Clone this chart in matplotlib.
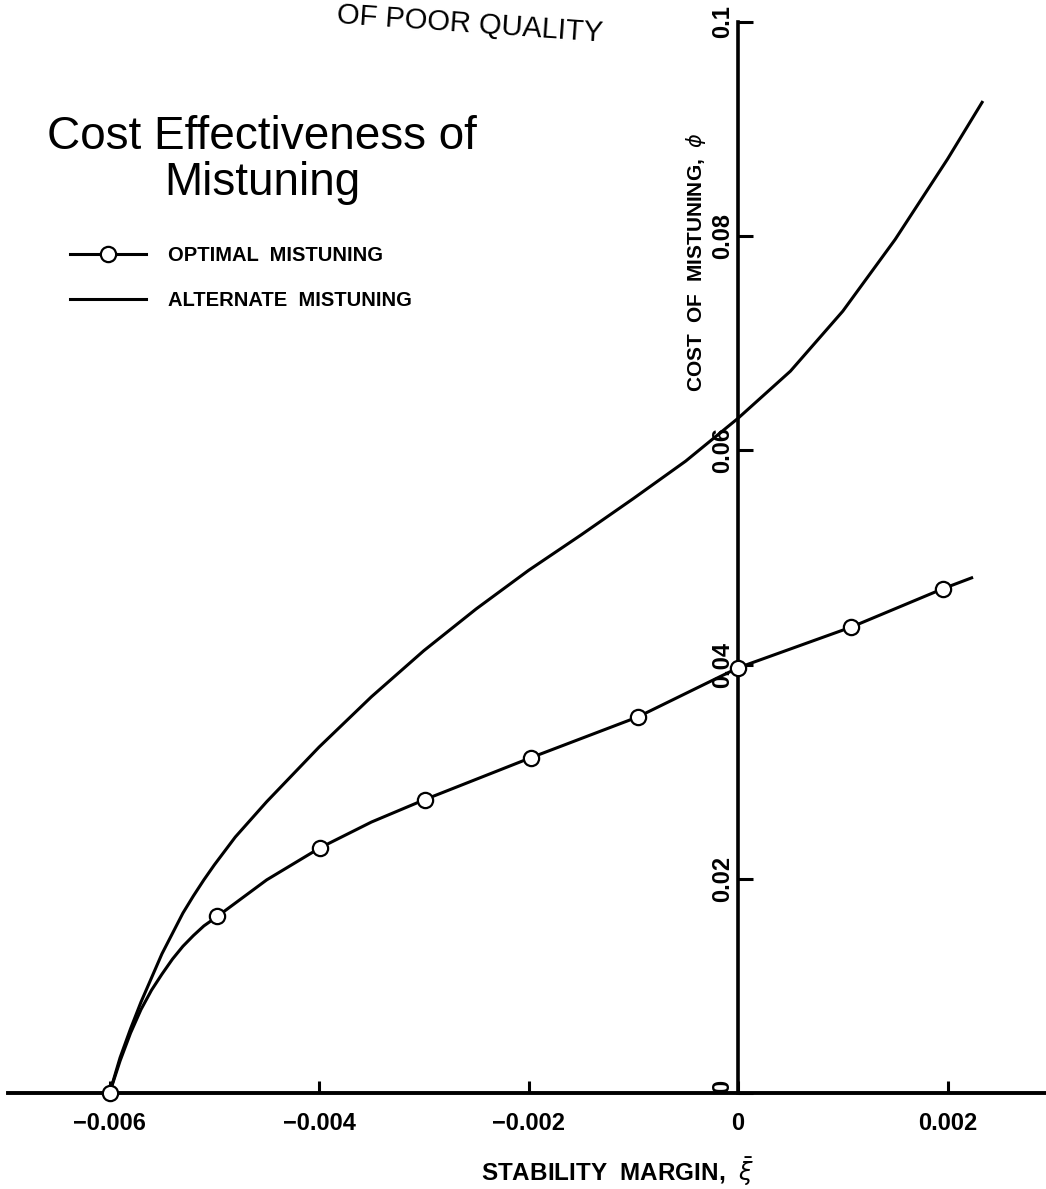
import numpy as np
import matplotlib
matplotlib.use('Agg')
import matplotlib.pyplot as plt

# stability margin (x) / cost of mistuning (y)
opt_x = [-0.0060, -0.00497, -0.00399, -0.00299, -0.00198, -0.00096, 0.0, 0.00108, 0.00196]
opt_y = [0.0, 0.0165, 0.0229, 0.0274, 0.0313, 0.0351, 0.0397, 0.0435, 0.0471]

# traced line for optimal mistuning (curved near the start, tail past last marker)
opt_line_x = [-0.0060, -0.0059, -0.0058, -0.0057, -0.0056, -0.0055, -0.0054,
              -0.0053, -0.0052, -0.0051, -0.00497, -0.0045, -0.00399, -0.0035,
              -0.00299, -0.00198, -0.00096, 0.0, 0.00108, 0.00196, 0.00223]
opt_line_y = [0.0, 0.0030, 0.0056, 0.0078, 0.0096, 0.0111, 0.0125,
              0.0137, 0.0147, 0.0156, 0.0165, 0.0199, 0.0229, 0.0253,
              0.0274, 0.0313, 0.0351, 0.0397, 0.0435, 0.0471, 0.0481]

# traced alternate mistuning curve
alt_x = [-0.0060, -0.0059, -0.0058, -0.0057, -0.0055, -0.0053, -0.0052, -0.0051,
         -0.0050, -0.0048, -0.0045, -0.0040, -0.0035, -0.0030, -0.0025, -0.0020,
         -0.0015, -0.0010, -0.0005, 0.0, 0.0005, 0.0010, 0.0015, 0.0020, 0.00233]
alt_y = [0.0, 0.0033, 0.0060, 0.0085, 0.0130, 0.0168, 0.0184, 0.0199,
         0.0213, 0.0239, 0.0272, 0.0323, 0.0370, 0.0413, 0.0452, 0.0488,
         0.0521, 0.0555, 0.0590, 0.0630, 0.0674, 0.0730, 0.0797, 0.0872, 0.0925]

xticks = [-0.006, -0.004, -0.002, 0, 0.002]
xtick_labels = ['\u22120.006', '\u22120.004', '\u22120.002', '0', '0.002']
yticks = [0, 0.02, 0.04, 0.06, 0.08, 0.1]
ytick_labels = ['0', '0.02', '0.04', '0.06', '0.08', '0.1']

plain = ['Liberation Sans', 'DejaVu Sans']

fig = plt.figure(figsize=(10.46, 11.89), dpi=100)
ax = fig.add_axes([8 / 1046, 96 / 1189, 1038 / 1046, 1071 / 1189])

l_alt, = ax.plot(alt_x, alt_y, color='black', lw=2.2, clip_on=False)
ax.plot(opt_line_x, opt_line_y, color='black', lw=2.2, clip_on=False)
ax.plot(opt_x, opt_y, 'o', color='black', mfc='white', mec='black',
        mew=1.6, ms=11, clip_on=False, zorder=5)
# legend handle for the optimal curve
l_opt, = ax.plot([], [], '-o', color='black', lw=2.2, mfc='white',
                 mec='black', mew=1.6, ms=11)

ax.set_xlim(-0.00697, 0.00294)
ax.set_ylim(0, 0.1)

ax.spines['left'].set_position(('data', 0))
ax.spines['left'].set_bounds(0, 0.1)
ax.spines['bottom'].set_position(('data', 0))
for s in ['top', 'right']:
    ax.spines[s].set_visible(False)
ax.spines['left'].set_linewidth(2.6)
ax.spines['bottom'].set_linewidth(2.8)

ax.set_xticks(xticks)
ax.set_xticklabels(xtick_labels, family=plain, fontweight='bold', fontsize=17)
ax.set_yticks(yticks)
ax.set_yticklabels(ytick_labels, family=plain, fontweight='bold', fontsize=17,
                   rotation=90, va='center')
ax.get_yticklabels()[0].set_va('bottom')
ax.tick_params(axis='x', direction='in', length=9, width=2.2, pad=14)
ax.tick_params(axis='y', direction='in', length=11, width=2.2, pad=3)

ax.text(-0.0004, 0.0776, r'COST  OF  MISTUNING,  $\phi$', rotation=90,
        ha='center', va='center', family=plain, fontweight='bold', fontsize=15)

fig.text(617 / 1046, 1 - 1172 / 1189, r'STABILITY  MARGIN,  $\bar{\xi}$',
         ha='center', va='center', family=plain, fontweight='bold', fontsize=17.5)

fig.text(262 / 1046, 1 - 160 / 1189, 'Cost Effectiveness of\nMistuning',
         ha='center', va='center', multialignment='center', family=plain,
         fontsize=33, linespacing=1.05)

fig.text(470 / 1046, 1 - 24 / 1189, 'OF POOR QUALITY', ha='center', va='center',
         family=plain, fontsize=21, rotation=-4)

ax.legend([l_opt, l_alt], ['OPTIMAL  MISTUNING', 'ALTERNATE  MISTUNING'],
          loc='upper left', bbox_to_anchor=(70 / 1046, 1 - 246 / 1189),
          bbox_transform=fig.transFigure, frameon=False, borderpad=0,
          borderaxespad=0, handlelength=3.75, handletextpad=1.1,
          labelspacing=1.3, numpoints=1,
          prop={'family': plain, 'weight': 'bold', 'size': 14.5})

fig.savefig('out.png', dpi=100)
